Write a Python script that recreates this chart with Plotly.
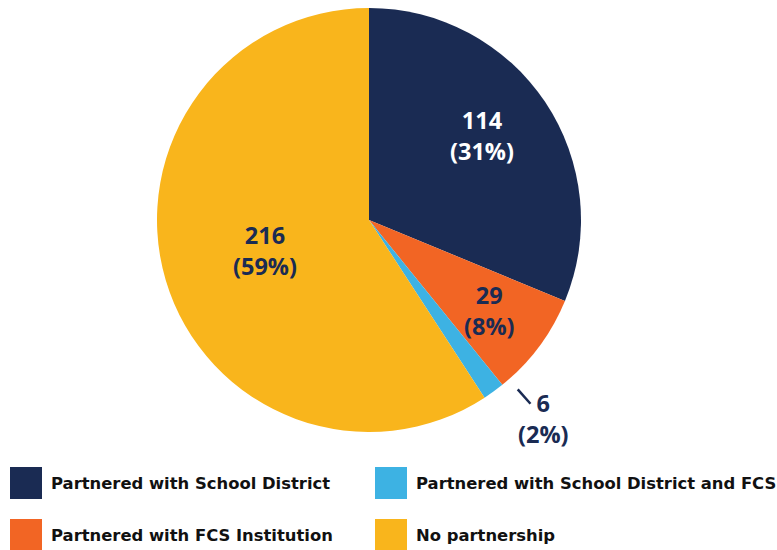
import numpy as np
import plotly.graph_objects as go

categories = ["Partnered with School District", "Partnered with FCS Institution",
              "Partnered with School District and FCS", "No partnership"]
values = [114, 29, 6, 216]
colors = ["#1A2B53", "#F26524", "#3DB2E3", "#F9B51C"]
label_colors = ["#FFFFFF", "#1A2B53", "#1A2B53", "#1A2B53"]

W, H = 777, 550
cx, cy, R = 369, 220, 212  # pie centre / radius in pixels

def px(x):
    return x / W

def py(y):
    return 1 - y / H

fig = go.Figure()
fig.add_trace(go.Pie(
    labels=categories, values=values, sort=False, direction="clockwise", rotation=0,
    marker=dict(colors=colors, line=dict(width=0)),
    textinfo="none", hoverinfo="label+value+percent", showlegend=False,
    domain=dict(x=[px(cx - R), px(cx + R)], y=[py(cy + R), py(cy - R)]),
))

vals = np.array(values, dtype=float)
frac = vals / vals.sum()
cum = np.concatenate([[0], np.cumsum(frac)])
mid_deg = (cum[:-1] + frac / 2) * 360

# label placement: radial fraction and angular offset per slice
rfrac = [0.665, 0.71, 1.245, 0.51]
doff = [-3, 0, -5.3, 0]

annotations = []
shapes = []
for i, v in enumerate(values):
    th = np.radians(mid_deg[i] + doff[i])
    x = cx + R * rfrac[i] * np.sin(th)
    y = cy - R * rfrac[i] * np.cos(th)
    annotations.append(dict(
        x=px(x), y=py(y), xref="paper", yref="paper", showarrow=False,
        text=f"{v}<br>({frac[i]*100:.0f}%)", align="center",
        xanchor="center", yanchor="middle",
        font=dict(family="Open Sans", size=23.5, color=label_colors[i], weight=700),
    ))
    if rfrac[i] > 1:
        r1, r2 = 1.063, 1.154
        shapes.append(dict(
            type="line", xref="paper", yref="paper",
            x0=px(cx + R * r1 * np.sin(th)), y0=py(cy - R * r1 * np.cos(th)),
            x1=px(cx + R * r2 * np.sin(th)), y1=py(cy - R * r2 * np.cos(th)),
            line=dict(color="#1A2B53", width=2.5),
        ))

# manual legend (2 x 2 grid)
leg_cols = [10, 375]
leg_rows = [483, 535]
order = [(0, 0), (0, 1), (1, 0), (1, 1)]  # (col,row) for each category
size = 32
for i, name in enumerate(categories):
    c, r = order[i]
    x0 = leg_cols[c]
    yc = leg_rows[r]
    shapes.append(dict(
        type="rect", xref="paper", yref="paper",
        x0=px(x0), x1=px(x0 + size), y0=py(yc + size / 2), y1=py(yc - size / 2),
        fillcolor=colors[i], line=dict(width=0),
    ))
    annotations.append(dict(
        x=px(x0 + 39), y=py(yc), xref="paper", yref="paper", showarrow=False,
        text=name, xanchor="left", yanchor="middle",
        font=dict(family="DejaVu Sans", size=16.4, color="#111111", weight=700),
    ))

fig.update_layout(
    width=W, height=H, autosize=False,
    margin=dict(l=0, r=0, t=0, b=0),
    paper_bgcolor="white", plot_bgcolor="white",
    annotations=annotations, shapes=shapes,
)

fig.write_html("out.html", config={"displayModeBar": False},
               post_script="document.body.style.margin='0';document.body.style.overflow='hidden';")
